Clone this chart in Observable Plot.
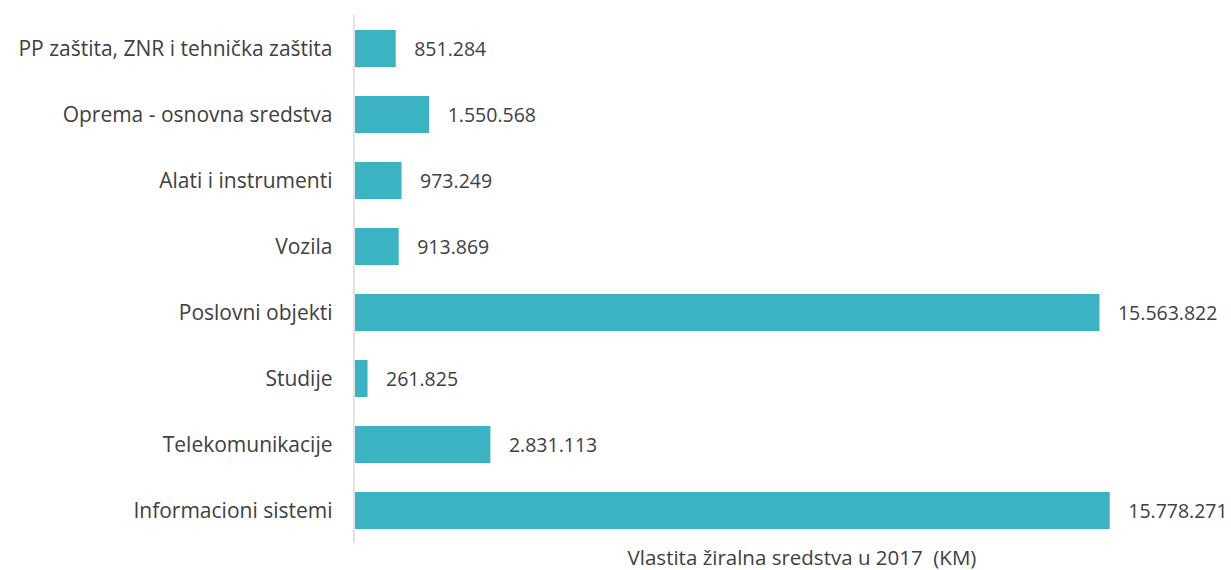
<!DOCTYPE html>
<html>
<head>
<meta charset="utf-8">
<script src="https://cdn.jsdelivr.net/npm/d3@7"></script>
<script src="https://cdn.jsdelivr.net/npm/@observablehq/plot@0.6"></script>
<style>
  body { margin: 0; background: #fff; }
  svg { font-family: "Open Sans", sans-serif; }
</style>
</head>
<body>
<div id="chart"></div>
<script>
const categories = [
  "PP zaštita, ZNR i tehnička zaštita",
  "Oprema - osnovna sredstva",
  "Alati i instrumenti",
  "Vozila",
  "Poslovni objekti",
  "Studije",
  "Telekomunikacije",
  "Informacioni sistemi"
];
const values = [851284, 1550568, 973249, 913869, 15563822, 261825, 2831113, 15778271];
const axisTitle = "Vlastita žiralna sredstva u 2017  (KM)";

const data = categories.map((c, i) => ({category: c, value: values[i]}));
const fmt = v => d3.format(",")(v).replace(/,/g, ".");

const chart = Plot.plot({
  width: 1231,
  height: 570,
  marginLeft: 355,
  marginRight: 15,
  marginTop: 15,
  marginBottom: 27,
  style: {fontSize: "21px", color: "#404040", fontFamily: "'Open Sans', sans-serif"},
  x: {domain: [0, 18000000], axis: null},
  y: {domain: categories, paddingInner: 0.44, paddingOuter: 0.22, label: null, tickSize: 0, tickPadding: 23},
  marks: [
    Plot.ruleX([0], {stroke: "#d9d9d9", strokeWidth: 1.5, dx: -1.5}),
    Plot.barX(data, {y: "category", x: "value", fill: "#3bb3c3"}),
    Plot.text(data, {y: "category", x: "value", text: d => fmt(d.value), textAnchor: "start", dx: 18, dy: 1, fill: "#404040", fontSize: 19.5}),
    Plot.text([axisTitle], {frameAnchor: "bottom", dy: 15, dx: 16, fill: "#404040", fontSize: 20.5, lineAnchor: "middle", style: "white-space: pre"})
  ]
});
document.getElementById("chart").appendChild(chart);
</script>
</body>
</html>
